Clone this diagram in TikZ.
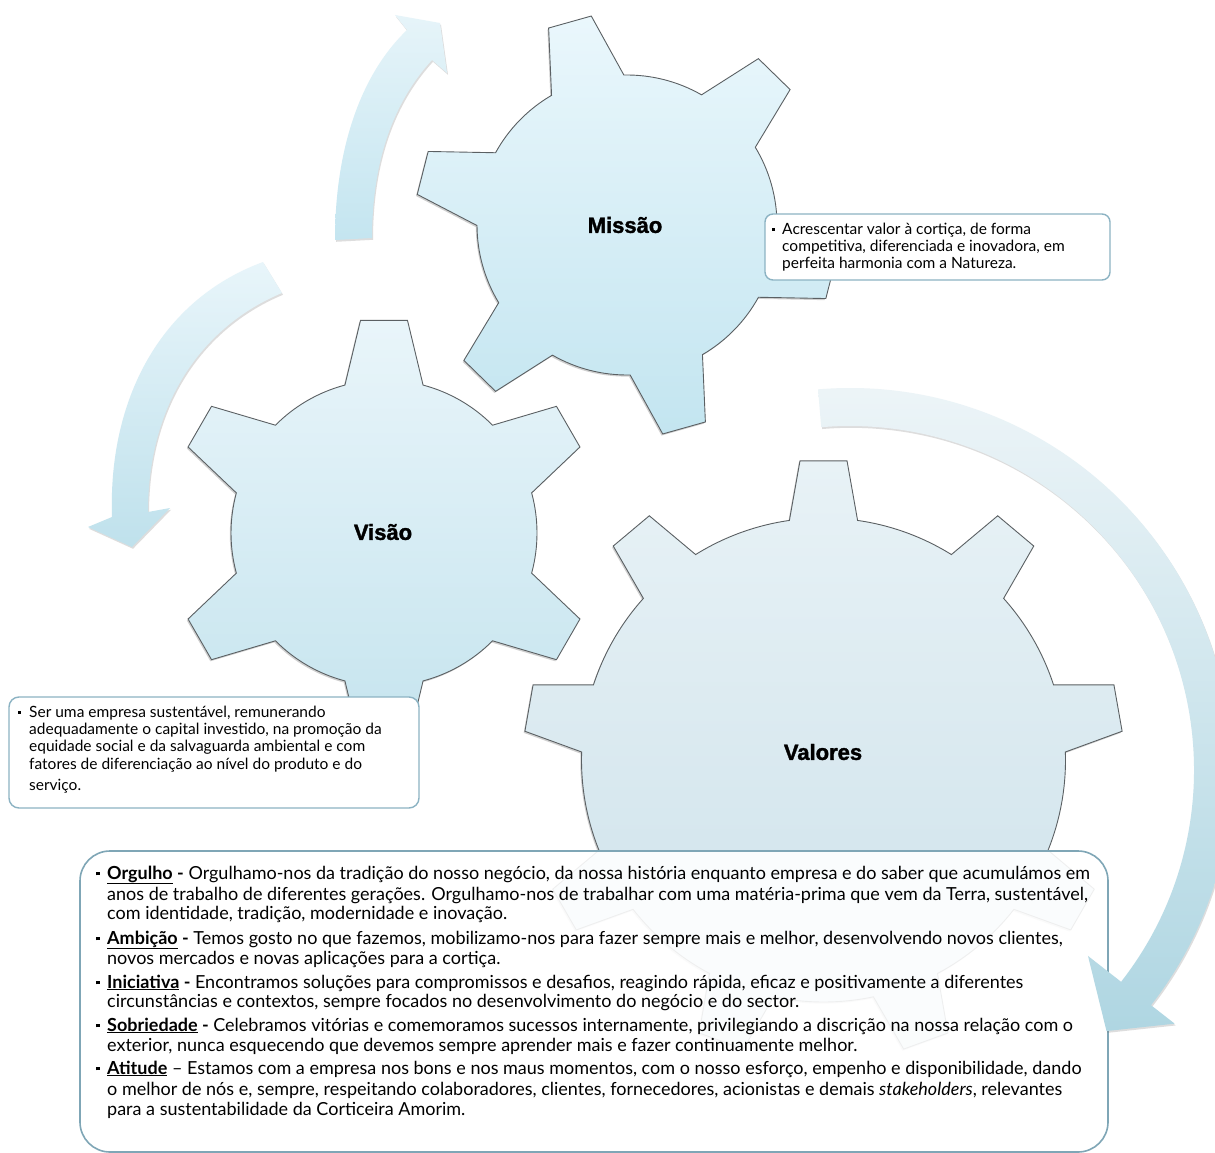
\documentclass[tikz,border=0pt]{standalone}
\usepackage{fontspec}
\setmainfont{Lato}
\newfontfamily\titlefont{Liberation Sans}[BoldFeatures={FakeBold=1.6}]
\usetikzlibrary{calc,shadows}

\definecolor{boxedge}{HTML}{8CB3C3}
\definecolor{bigboxedge}{HTML}{7FA6B6}
\definecolor{gearedge}{HTML}{5B6063}

% small square bullet
\newcommand{\sqb}{\rule[0.2em]{0.21em}{0.21em}}

\tikzset{
  gearbody/.style={draw=gearedge, line width=0.9pt, line join=miter,
    drop shadow={shadow xshift=-1.2pt, shadow yshift=-1.6pt, opacity=0.3, fill=black!60}},
  arrowbody/.style={draw=none,
    drop shadow={shadow xshift=1pt, shadow yshift=-1.8pt, opacity=0.22, fill=black!60}},
  infobox/.style={draw=boxedge, line width=1.4pt, fill=white, rounded corners=8pt},
  geartitle/.style={font=\titlefont\bfseries\fontsize{22}{26}\selectfont, inner sep=0pt},
  smallline/.style={anchor=base west, inner sep=0pt, font=\fontsize{15.5}{17}\selectfont},
  bigline/.style={anchor=base west, inner sep=0pt, font=\fontsize{18}{20}\selectfont},
}

\begin{document}
\begin{tikzpicture}[x=1pt,y=1pt]
\fill[white] (0,0) rectangle (1215,-1153);
\path[use as bounding box] (0,0) rectangle (1215,-1153);

% ---------- curved arrows ----------
% upper arrow
\path[arrowbody, top color={rgb,255:red,230;green,244;blue,249}, bottom color={rgb,255:red,196;green,229;blue,240}]
  (335,-240) .. controls (335,-150) and (360,-75) .. (407,-30)
  -- (395,-15) -- (440,-23) -- (447,-73) -- (432,-60)
  .. controls (400,-95) and (372,-150) .. (372,-238) -- cycle;

% left arrow
\path[arrowbody, top color={rgb,255:red,232;green,245;blue,250}, bottom color={rgb,255:red,191;green,225;blue,236}]
  (263,-262) -- (282,-293) .. controls (205,-325) and (148,-400) .. (148,-512)
  -- (170,-508) -- (132,-547) -- (88,-527) -- (112,-517)
  .. controls (108,-400) and (160,-300) .. (263,-262) -- cycle;

% ---------- gears ----------
% Missao
\coordinate (mc) at (627,-225);
\path[gearbody, top color={rgb,255:red,234;green,247;blue,252}, bottom color={rgb,255:red,195;green,229;blue,240}]
  ($(mc)+(105.7-14.5:150)$)
  \foreach \k in {0,...,5}{
    -- ($(mc)+({105.7+60*\k-6}:212)$)
    -- ($(mc)+({105.7+60*\k+6}:212)$)
    -- ($(mc)+({105.7+60*\k+14.5}:150)$)
    arc[start angle={105.7+60*\k+14.5}, end angle={105.7+60*\k+45.5}, radius=150]
  } -- cycle;
\node[geartitle] (missao) at (625,-225) {Missão};

% Visao
\coordinate (vc) at (384,-533);
\path[gearbody, top color={rgb,255:red,233;green,245;blue,250}, bottom color={rgb,255:red,197;green,228;blue,238}]
  ($(vc)+(90-14.8:153)$)
  \foreach \k in {0,...,5}{
    -- ($(vc)+({90+60*\k-6.3}:214)$)
    -- ($(vc)+({90+60*\k+6.3}:214)$)
    -- ($(vc)+({90+60*\k+14.8}:153)$)
    arc[start angle={90+60*\k+14.8}, end angle={90+60*\k+45.2}, radius=153]
  } -- cycle;
\node[geartitle] (visao) at (383,-532) {Visão};

% Valores
\coordinate (lc) at (823.5,-760);
\path[gearbody, top color={rgb,255:red,232;green,242;blue,246}, bottom color={rgb,255:red,204;green,225;blue,234}]
  ($(lc)+(90-8.1:242)$)
  \foreach \k in {0,...,8}{
    -- ($(lc)+({90+40*\k-4.5}:300)$)
    -- ($(lc)+({90+40*\k+4.5}:300)$)
    -- ($(lc)+({90+40*\k+8.1}:242)$)
    arc[start angle={90+40*\k+8.1}, end angle={90+40*\k+31.9}, radius=242]
  } -- cycle;
\node[geartitle] (valores) at (823,-752) {Valores};

% ---------- text boxes ----------
\path[infobox] (765,-214) rectangle (1110,-280);
\node[smallline] (m1) at (772,-234) {\makebox[10pt][l]{\sqb}Acrescentar valor à cortiça, de forma};
\node[smallline] (m2) at (782,-251) {competitiva, diferenciada e inovadora, em};
\node[smallline] (m3) at (782,-268) {perfeita harmonia com a Natureza.};

\path[infobox, rounded corners=10pt] (9,-697) rectangle (419,-808);
\node[smallline] (v1) at (18,-717) {\makebox[11pt][l]{\sqb}Ser uma empresa sustentável, remunerando};
\node[smallline] (v2) at (29,-734) {adequadamente o capital investido, na promoção da};
\node[smallline] (v3) at (29,-751) {equidade social e da salvaguarda ambiental e com};
\node[smallline] (v4) at (29,-769) {fatores de diferenciação ao nível do produto e do};
\node[smallline] (v5) at (29,-790) {serviço.};

\path[draw=bigboxedge, line width=1.6pt, fill=white, fill opacity=0.9, rounded corners=30pt]
  (80,-851) rectangle (1108,-1152);
\node[bigline] (o1) at (96,-879) {\makebox[11pt][l]{\sqb}\textbf{\underline{Orgulho} -} Orgulhamo-nos da tradição do nosso negócio, da nossa história enquanto empresa e do saber que acumulámos em};
\node[bigline] (o2) at (107,-900) {anos de trabalho de diferentes gerações. Orgulhamo-nos de trabalhar com uma matéria-prima que vem da Terra, sustentável,};
\node[bigline] (o3) at (107,-919) {com identidade, tradição, modernidade e inovação.};
\node[bigline] (a1) at (96,-944) {\makebox[11pt][l]{\sqb}\textbf{\underline{Ambição} -} Temos gosto no que fazemos, mobilizamo-nos para fazer sempre mais e melhor, desenvolvendo novos clientes,};
\node[bigline] (a2) at (107,-964) {novos mercados e novas aplicações para a cortiça.};
\node[bigline] (i1) at (96,-988) {\makebox[11pt][l]{\sqb}\textbf{\underline{Iniciativa} -} Encontramos soluções para compromissos e desafios, reagindo rápida, eficaz e positivamente a diferentes};
\node[bigline] (i2) at (107,-1007) {circunstâncias e contextos, sempre focados no desenvolvimento do negócio e do sector.};
\node[bigline] (s1) at (96,-1031) {\makebox[11pt][l]{\sqb}\textbf{\underline{Sobriedade} -} Celebramos vitórias e comemoramos sucessos internamente, privilegiando a discrição na nossa relação com o};
\node[bigline] (s2) at (107,-1051) {exterior, nunca esquecendo que devemos sempre aprender mais e fazer continuamente melhor.};
\node[bigline] (t1) at (96,-1074) {\makebox[11pt][l]{\sqb}\textbf{\underline{Atitude}} – Estamos com a empresa nos bons e nos maus momentos, com o nosso esforço, empenho e disponibilidade, dando};
\node[bigline] (t2) at (107,-1095) {o melhor de nós e, sempre, respeitando colaboradores, clientes, fornecedores, acionistas e demais \textit{stakeholders}, relevantes};
\node[bigline] (t3) at (107,-1115) {para a sustentabilidade da Corticeira Amorim.};

% big arrow around the Valores gear (drawn over the box)
\coordinate (bc) at (850,-770);
\path[arrowbody, top color={rgb,255:red,238;green,245;blue,248}, bottom color={rgb,255:red,175;green,214;blue,226}]
  ($(bc)+(94.8:382)$) arc[start angle=94.8, end angle=-38, radius=382]
  -- ($(bc)+(-38:412)$) -- ($(bc)+(-45.5:366)$) -- ($(bc)+(-38:302)$) -- ($(bc)+(-38:344)$)
  arc[start angle=-38, end angle=94.8, radius=344] -- cycle;

\end{tikzpicture}
\end{document}
